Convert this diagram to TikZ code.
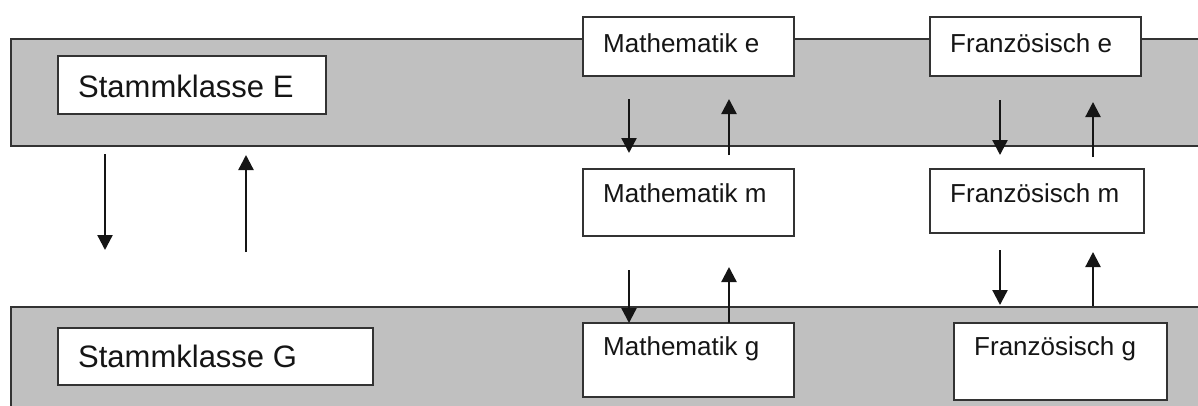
\documentclass[tikz,border=0pt]{standalone}
\usepackage{fontspec}
\setmainfont{Liberation Sans}
\usetikzlibrary{arrows.meta,calc}
\definecolor{bandgray}{HTML}{C0C0C0}
\definecolor{edge}{HTML}{333333}
\definecolor{ink}{HTML}{151515}
\begin{document}
\begin{tikzpicture}[x=1pt,y=-1pt,
  band/.style={draw=edge,fill=bandgray,line width=2pt,rectangle,inner sep=0pt,anchor=north west},
  box/.style={draw=edge,fill=white,line width=2pt,rectangle,inner sep=0pt,anchor=north west},
  big/.style={font=\fontsize{31}{31}\selectfont,anchor=base west,inner sep=0pt,text=ink},
  small/.style={font=\fontsize{26}{26}\selectfont,anchor=base west,inner sep=0pt,text=ink},
  arr/.style={line width=2.3pt,draw=ink,-{Triangle[width=15pt,length=15pt]}}]
\useasboundingbox (0,0) rectangle (1198,405);
\clip (0,0) rectangle (1198,405);

% the two class bands
\node[band,minimum width=1220pt,minimum height=107pt] (bandE) at (10,38) {};
\node[band,minimum width=1220pt,minimum height=130pt] (bandG) at (10,306) {};

% home classes
\node[box,minimum width=268pt,minimum height=58pt] (sE) at (57,55) {};
\node[big] (tE) at ($(sE.north west)+(21,42)$) {Stammklasse E};
\node[box,minimum width=315pt,minimum height=57pt] (sG) at (57,327) {};
\node[big] (tG) at ($(sG.north west)+(21,40)$) {Stammklasse G};

% mathematics levels
\node[box,minimum width=211pt,minimum height=59pt] (me) at (582,16) {};
\node[small] (tme) at ($(me.north west)+(21,36)$) {Mathematik e};
\node[box,minimum width=211pt,minimum height=67pt] (mm) at (582,168) {};
\node[small] (tmm) at ($(mm.north west)+(21,34)$) {Mathematik m};
\node[box,minimum width=211pt,minimum height=74pt] (mg) at (582,322) {};
\node[small] (tmg) at ($(mg.north west)+(21,33)$) {Mathematik g};

% French levels
\node[box,minimum width=211pt,minimum height=59pt] (fe) at (929,16) {};
\node[small] (tfe) at ($(fe.north west)+(21,36)$) {Französisch e};
\node[box,minimum width=214pt,minimum height=64pt] (fm) at (929,168) {};
\node[small] (tfm) at ($(fm.north west)+(21,34)$) {Französisch m};
\node[box,minimum width=213pt,minimum height=77pt] (fg) at (953,322) {};
\node[small] (tfg) at ($(fg.north west)+(21,33)$) {Französisch g};

% moves between the home classes
\draw[arr] ($(bandE.south west)+(95,7)$) -- ($(bandG.north west)+(95,-56)$);
\draw[arr] ($(bandG.north west)+(236,-54)$) -- ($(bandE.south west)+(236,8)$);

% moves between mathematics levels
\draw[arr] ($(me.south west)+(47,22)$) -- ($(mm.north west)+(47,-15)$);
\draw[arr] ($(mm.north west)+(147,-13)$) -- ($(me.south west)+(147,22)$);
\draw[arr] ($(mm.south west)+(47,33)$) -- ($(mg.north west)+(47,1)$);
\draw[arr] ($(mg.north west)+(147,1)$) -- ($(mm.south west)+(147,30)$);

% moves between French levels
\draw[arr] ($(fe.south west)+(71,23)$) -- ($(fm.north west)+(71,-13)$);
\draw[arr] ($(fm.north west)+(164,-11)$) -- ($(fe.south west)+(164,25)$);
\draw[arr] ($(fm.south west)+(71,16)$) -- ($(bandG.north west)+(990,-1)$);
\draw[arr] ($(bandG.north west)+(1083,0)$) -- ($(fm.south west)+(164,18)$);
\end{tikzpicture}
\end{document}
